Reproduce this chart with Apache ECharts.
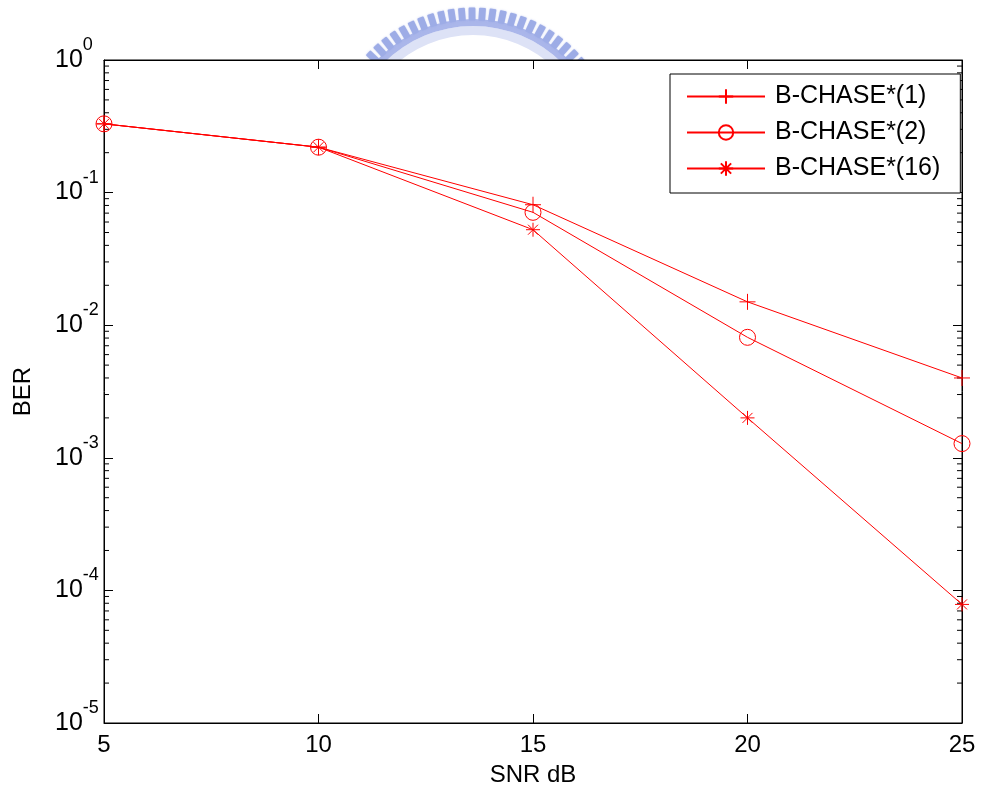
<!DOCTYPE html>
<html>
<head>
<meta charset="utf-8">
<title>BER vs SNR</title>
<script src="https://cdn.jsdelivr.net/npm/echarts@6/dist/echarts.min.js"></script>
<style>
  html, body { margin: 0; padding: 0; background: #fff; }
  #chart { width: 984px; height: 791px; }
</style>
</head>
<body>
<div id="chart"></div>
<script>
// SNR points (dB) and measured bit error rates
const snr = [5, 10, 15, 20, 25];
const berChase1 = [0.33, 0.22, 0.081, 0.015, 0.004];
const berChase2 = [0.33, 0.22, 0.071, 0.0081, 0.00128];
const berChase16 = [0.33, 0.22, 0.0525, 0.002, 0.0000784];
const seriesNames = ['B-CHASE*(1)', 'B-CHASE*(2)', 'B-CHASE*(16)'];

// axis ranges
const xMin = 5, xMax = 25, xStep = 5;
const yMin = 1e-5, yMax = 1;

const FONT = '"Liberation Sans", Arial, sans-serif';
const RED = '#ff0000';

// minor tick values 2..9 x 10^k inside each decade
const minorTicks = [];
for (let k = -5; k < 0; k++) {
  for (let m = 2; m <= 9; m++) minorTicks.push(m * Math.pow(10, k));
}

const plusPath = 'path://M0,-8L0,8M-8,0L8,0';
const starPath = 'path://M0,-7L0,7M-7,0L7,0M-5,-5L5,5M-5,5L5,-5';

function pairs(ys) { return snr.map((x, i) => [x, ys[i]]); }

function lineSeries(name, ys, symbol, size) {
  return {
    name: name,
    type: 'line',
    data: pairs(ys),
    symbol: symbol,
    symbolSize: size,
    clip: false,
    lineStyle: { color: RED, width: 1 },
    itemStyle: { color: 'transparent', borderColor: RED, borderWidth: 1 },
    emphasis: { disabled: true },
    z: 5
  };
}

// faded logo arc at the top edge (the plot background hides its lower half)
const wmCx = 473, wmCy = 152;
const watermark = [{
  type: 'ring', z: -10,
  shape: { cx: wmCx, cy: wmCy, r: 126, r0: 117 },
  style: { fill: '#dde2f6' }
}, {
  type: 'ring', z: -10,
  shape: { cx: wmCx, cy: wmCy, r: 133, r0: 126 },
  style: { fill: '#aab6ea' }
}];
for (let a = 40; a <= 140; a += 4.2) {
  const t = a * Math.PI / 180;
  const rc = 138;
  watermark.push({
    type: 'rect', z: -10,
    x: wmCx + rc * Math.cos(t),
    y: wmCy - rc * Math.sin(t),
    rotation: t - Math.PI / 2,
    shape: { x: -3.4, y: -6.5, width: 6.8, height: 13, r: 1 },
    style: { fill: '#9dace6', shadowBlur: 2, shadowColor: 'rgba(150,165,230,0.6)' }
  });
}

const chart = echarts.init(document.getElementById('chart'), null, { renderer: 'canvas' });

chart.setOption({
  backgroundColor: '#fff',
  animation: false,
  graphic: watermark,
  grid: {
    left: 104, right: 22, top: 60, bottom: 68,
    outerBoundsMode: 'none',
    containLabel: false,
    show: true, backgroundColor: '#fff', borderColor: '#000', borderWidth: 1, z: 0
  },
  legend: {
    data: seriesNames,
    orient: 'vertical',
    left: 670, top: 74,
    itemWidth: 78, itemHeight: 18, itemGap: 11,
    padding: [10, 20, 12, 16],
    backgroundColor: '#fff',
    borderColor: '#000', borderWidth: 1,
    textStyle: { fontFamily: FONT, fontSize: 25, color: '#000', padding: [0, 0, 0, 5] },
    selectedMode: false
  },
  xAxis: [{
    type: 'value', min: xMin, max: xMax, interval: xStep,
    name: 'SNR dB', nameLocation: 'middle', nameGap: 40,
    nameTextStyle: { fontFamily: FONT, fontSize: 24, color: '#000' },
    axisLine: { show: true, lineStyle: { color: '#000', width: 1 } },
    axisTick: { show: true, inside: true, length: 9, lineStyle: { color: '#000' } },
    axisLabel: { fontFamily: FONT, fontSize: 24, color: '#000', margin: 10 },
    splitLine: { show: false }
  }, {
    type: 'value', min: xMin, max: xMax, interval: xStep, position: 'top',
    axisLine: { show: true, lineStyle: { color: '#000', width: 1 } },
    axisTick: { show: true, inside: true, length: 9, lineStyle: { color: '#000' } },
    axisLabel: { show: false },
    splitLine: { show: false }
  }],
  yAxis: [{
    type: 'log', logBase: 10, min: yMin, max: yMax,
    name: 'BER', nameLocation: 'middle', nameGap: 69, nameRotate: 90,
    nameTextStyle: { fontFamily: FONT, fontSize: 24, color: '#000' },
    axisLine: { show: true, lineStyle: { color: '#000', width: 1 } },
    axisTick: { show: true, inside: true, length: 9, lineStyle: { color: '#000' } },
    axisLabel: {
      margin: 49, align: 'left', verticalAlign: 'middle',
      formatter: function (v) {
        const e = Math.round(Math.log10(v));
        return '{b|10}{s|' + e + '}';
      },
      rich: {
        b: { fontFamily: FONT, fontSize: 25, color: '#000', lineHeight: 48 },
        s: { fontFamily: FONT, fontSize: 18, color: '#000', lineHeight: 23, verticalAlign: 'top' }
      }
    },
    splitLine: { show: false }
  }, {
    type: 'log', logBase: 10, min: yMin, max: yMax, position: 'right',
    axisLine: { show: true, lineStyle: { color: '#000', width: 1 } },
    axisTick: { show: true, inside: true, length: 9, lineStyle: { color: '#000' } },
    axisLabel: { show: false },
    splitLine: { show: false }
  }],
  series: [
    {
      // minor log ticks on the left and right frame edges
      type: 'custom',
      data: minorTicks.map(v => [xMin, v]),
      silent: true,
      z: 3,
      renderItem: function (params, api) {
        const v = api.value(1);
        const pl = api.coord([xMin, v]);
        const pr = api.coord([xMax, v]);
        const st = { stroke: '#000', lineWidth: 1 };
        return {
          type: 'group',
          children: [
            { type: 'line', shape: { x1: pl[0], y1: pl[1], x2: pl[0] + 5, y2: pl[1] }, style: st },
            { type: 'line', shape: { x1: pr[0], y1: pr[1], x2: pr[0] - 5, y2: pr[1] }, style: st }
          ]
        };
      }
    },
    lineSeries(seriesNames[0], berChase1, plusPath, 16),
    lineSeries(seriesNames[1], berChase2, 'circle', 16),
    lineSeries(seriesNames[2], berChase16, starPath, 14)
  ]
});
</script>
</body>
</html>
